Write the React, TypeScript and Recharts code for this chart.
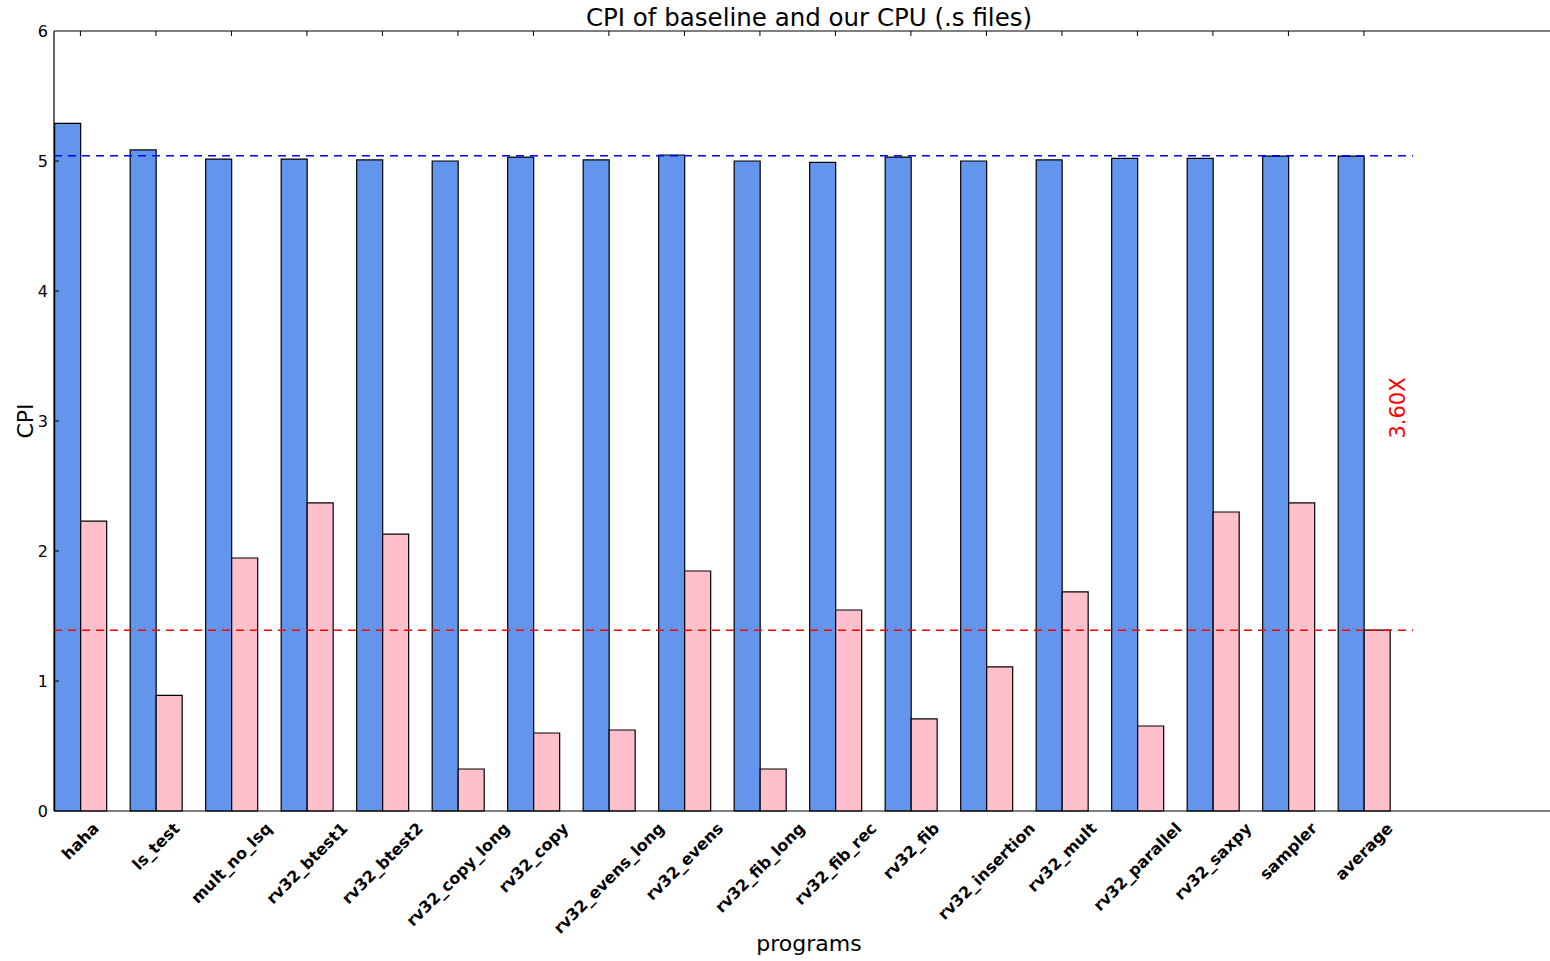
import React from 'react';
import { BarChart, Bar, XAxis, YAxis, ReferenceLine, ReferenceDot, Label } from 'recharts';

// ---------- data ----------
const programs = [
  'haha', 'ls_test', 'mult_no_lsq', 'rv32_btest1', 'rv32_btest2', 'rv32_copy_long',
  'rv32_copy', 'rv32_evens_long', 'rv32_evens', 'rv32_fib_long', 'rv32_fib_rec',
  'rv32_fib', 'rv32_insertion', 'rv32_mult', 'rv32_parallel', 'rv32_saxpy', 'sampler', 'average',
];
const baselineCPI = [
  5.29, 5.085, 5.015, 5.015, 5.008, 5.0, 5.03, 5.008, 5.046, 5.0, 4.99, 5.03, 5.0, 5.008, 5.02, 5.02, 5.038, 5.038,
];
const ourCPI = [
  2.23, 0.89, 1.946, 2.37, 2.13, 0.323, 0.6, 0.623, 1.846, 0.323, 1.546, 0.708, 1.108, 1.685, 0.654, 2.3, 2.37, 1.392,
];
const yTicks = [0, 1, 2, 3, 4, 5, 6];
const baselineAvg = 5.04;
const ourAvg = 1.39;
const speedupLabel = '3.60X';
const speedupPos = { x: 17.8, y: 3.1 };
const titleText = 'CPI of baseline and our CPU (.s files)';
const xLabelText = 'programs';
const yLabelText = 'CPI';

const BAR_W = 0.35; // bar width in category units (as in matplotlib)
const X_DOMAIN: [number, number] = [0, 20];
const avgLineEnd = programs.length;

const data = programs.map((name, i) => ({
  name,
  x: i + BAR_W,
  baseline: baselineCPI[i],
  ours: ourCPI[i],
}));
const xTicks = data.map((d) => d.x);

// ---------- helpers ----------
const FONT = '"DejaVu Sans", "Bitstream Vera Sans", sans-serif';
let ctx: CanvasRenderingContext2D | null = null;
function measure(text: string, font: string): number {
  try {
    if (!ctx) ctx = document.createElement('canvas').getContext('2d');
    if (ctx) {
      ctx.font = font;
      return ctx.measureText(text).width;
    }
  } catch (e) {}
  return text.length * 9.5;
}

const XTick = (props: any) => {
  const { x, y, payload } = props;
  const idx = Math.round(payload.value - BAR_W);
  const label = programs[idx] ?? '';
  const fs = 16;
  const w = measure(label, `bold ${fs}px "DejaVu Sans"`);
  const H = fs * 1.164;
  const half = (0.7071 * (w + H)) / 2;
  const cx = x;
  const cy = y + 8 + half;
  return (
    <text
      x={cx}
      y={cy}
      textAnchor="middle"
      dominantBaseline="central"
      transform={`rotate(-45, ${cx}, ${cy})`}
      fontFamily={FONT}
      fontSize={fs}
      fontWeight="bold"
      fill="#000"
    >
      {label}
    </text>
  );
};

const YTick = (props: any) => {
  const { x, y, payload } = props;
  return (
    <text x={x} y={y} dy="0.36em" textAnchor="end" fontFamily={FONT} fontSize={16} fill="#000">
      {payload.value}
    </text>
  );
};

const TitleLabel = (props: any) => {
  const vb = props.viewBox || {};
  return (
    <text x={vb.x + vb.width / 2} y={vb.y - 5} textAnchor="middle" fontFamily={FONT} fontSize={24.5} fill="#000">
      {titleText}
    </text>
  );
};

const XAxisLabel = (props: any) => {
  const vb = props.viewBox || {};
  return (
    <text x={vb.x + vb.width / 2} y={951} textAnchor="middle" fontFamily={FONT} fontSize={22} fill="#000">
      {xLabelText}
    </text>
  );
};

const YAxisLabel = (props: any) => {
  const vb = props.viewBox || {};
  const cx = 25;
  const cy = vb.y + vb.height / 2;
  return (
    <text
      x={cx}
      y={cy}
      textAnchor="middle"
      dominantBaseline="central"
      transform={`rotate(-90, ${cx}, ${cy})`}
      fontFamily={FONT}
      fontSize={22}
      fill="#000"
    >
      {yLabelText}
    </text>
  );
};

const SpeedupShape = (props: any) => {
  const { cx, cy } = props;
  return (
    <text
      x={cx}
      y={cy}
      textAnchor="middle"
      dominantBaseline="central"
      transform={`rotate(-90, ${cx}, ${cy})`}
      fontFamily={FONT}
      fontSize={21}
      fill="#ff0000"
    >
      {speedupLabel}
    </text>
  );
};

const PX_X = 1510 / (X_DOMAIN[1] - X_DOMAIN[0]);
const PX_Y = 780 / 6;
const TICK_LEN = 5;

export default function App() {
  return (
    <div
      style={{
        position: 'absolute',
        left: 0,
        top: 0,
        width: 1550,
        height: 961,
        overflow: 'hidden',
        background: '#fff',
      }}
    >
      <BarChart
        width={1600}
        height={961}
        data={data}
        margin={{ top: 31, right: 36, left: 0, bottom: 0 }}
        barGap={0}
        barSize={26}
      >
        <XAxis
          dataKey="x"
          type="number"
          domain={X_DOMAIN}
          ticks={xTicks}
          interval={0}
          allowDataOverflow
          height={150}
          tickSize={0}
          tickMargin={0}
          tickLine={false}
          axisLine={{ stroke: '#000', strokeWidth: 1.2 }}
          tick={<XTick />}
        >
          <Label content={<XAxisLabel />} />
        </XAxis>
        <YAxis
          type="number"
          domain={[0, 6]}
          ticks={yTicks}
          interval={0}
          width={54}
          tickSize={0}
          tickMargin={6}
          tickLine={false}
          axisLine={{ stroke: '#000', strokeWidth: 1.2 }}
          tick={<YTick />}
        >
          <Label content={<YAxisLabel />} />
        </YAxis>
        <Bar dataKey="baseline" fill="#6495ED" stroke="#000" strokeWidth={1.2} isAnimationActive={false} />
        <Bar dataKey="ours" fill="#FFC0CB" stroke="#000" strokeWidth={1.2} isAnimationActive={false} />

        {/* frame top */}
        <ReferenceLine y={6} stroke="#000" strokeWidth={1.2} label={<TitleLabel />} />

        {/* inward ticks on top */}
        {xTicks.map((t) => (
          <ReferenceLine
            key={`tt${t}`}
            segment={[
              { x: t, y: 6 },
              { x: t, y: 6 - TICK_LEN / PX_Y },
            ]}
            stroke="#000"
            strokeWidth={1}
          />
        ))}
        {/* inward ticks on left */}
        {yTicks.slice(1, -1).map((v) => (
          <ReferenceLine
            key={`yt${v}`}
            segment={[
              { x: 0, y: v },
              { x: TICK_LEN / PX_X, y: v },
            ]}
            stroke="#000"
            strokeWidth={1}
          />
        ))}

        {/* average lines */}
        <ReferenceLine
          segment={[
            { x: 0, y: baselineAvg },
            { x: avgLineEnd, y: baselineAvg },
          ]}
          stroke="#0000ff"
          strokeWidth={1.5}
          strokeDasharray="8 6"
        />
        <ReferenceLine
          segment={[
            { x: 0, y: ourAvg },
            { x: avgLineEnd, y: ourAvg },
          ]}
          stroke="#ff0000"
          strokeWidth={1.5}
          strokeDasharray="8 6"
        />
        <ReferenceDot x={speedupPos.x} y={speedupPos.y} r={1} shape={<SpeedupShape />} />
      </BarChart>
    </div>
  );
}
